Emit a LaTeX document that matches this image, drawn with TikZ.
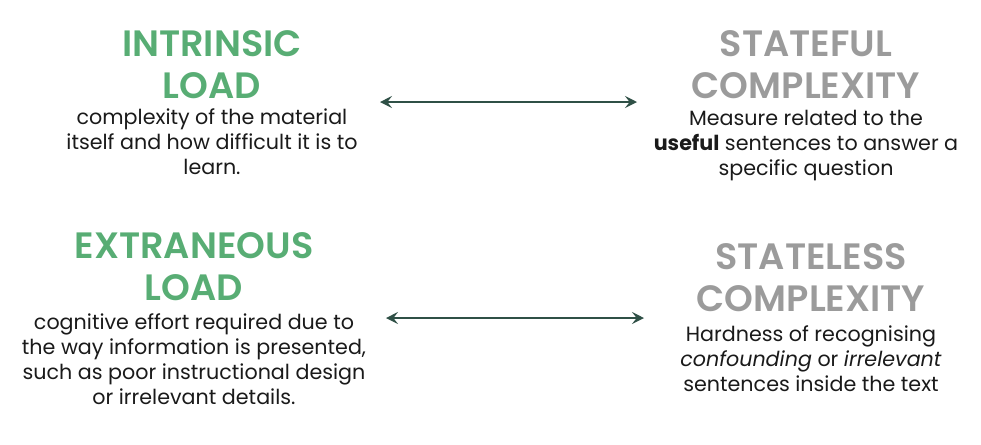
\documentclass[tikz,border=0pt]{standalone}
\usepackage{fontspec}
\setmainfont{Poppins}
\newfontfamily\titlefont{Poppins SemiBold}
\usepackage{xcolor}
\definecolor{loadgreen}{HTML}{58AD74}
\definecolor{cplxgray}{HTML}{9B9B9B}
\definecolor{arrowgreen}{HTML}{2F5046}
\definecolor{bodyblack}{HTML}{1A1A1A}
\usepackage{tikz}
\usetikzlibrary{positioning,arrows.meta}

\begin{document}
\begin{tikzpicture}[
  x=0.75pt, y=-0.75pt,
  title/.style={inner sep=0pt, align=center, font=\fontsize{27.5}{31.5}\titlefont},
  desc/.style={inner sep=0pt, align=center, text=bodyblack, font=\fontsize{15.5}{18.8}\selectfont},
  darrow/.style={{Stealth[length=9pt,width=9pt,inset=3.5pt]}-{Stealth[length=9pt,width=9pt,inset=3.5pt]},
                 line width=1.1pt, arrowgreen},
]
\useasboundingbox (0,0) rectangle (981,444);

% Left column: cognitive load
\node[title, text=loadgreen] (intrinsic) at (212,65) {INTRINSIC\\LOAD};
\node[desc, below=7pt of intrinsic] (intrinsicdesc) {complexity of the material\\itself and how difficult it is to\\learn.};

\node[title, text=loadgreen] (extraneous) at (194,267) {EXTRANEOUS\\LOAD};
\node[desc, below=9pt of extraneous] (extraneousdesc) {cognitive effort required due to\\the way information is presented,\\such as poor instructional design\\or irrelevant details.};

% Right column: text complexity
\node[title, text=cplxgray] (stateful) at (806,65) {STATEFUL\\COMPLEXITY};
\node[desc, below=8pt of stateful] (statefuldesc) {Measure related to the\\\textbf{useful} sentences to answer a\\specific question};

\node[title, text=cplxgray] (stateless) at (811,278) {STATELESS\\COMPLEXITY};
\node[desc, below=10pt of stateless] (statelessdesc) {Hardness of recognising\\\textit{confounding} or \textit{irrelevant}\\sentences inside the text};

% Correspondences
\coordinate (a1) at (380,102);
\coordinate (b1) at (637,102);
\coordinate (a2) at (386,318);
\coordinate (b2) at (644,318);
\draw[darrow] (a1) -- (b1);
\draw[darrow] (a2) -- (b2);

\end{tikzpicture}
\end{document}
